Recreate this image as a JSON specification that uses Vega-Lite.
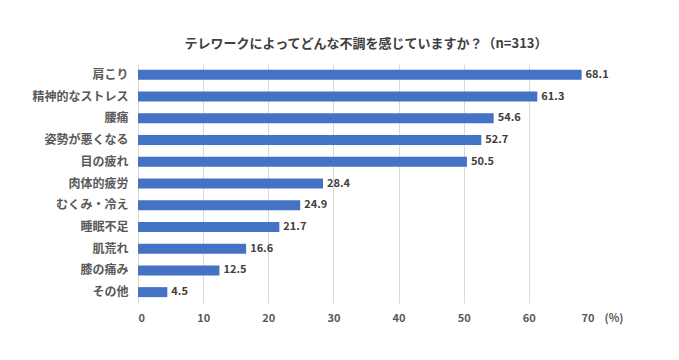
{
  "$schema": "https://vega.github.io/schema/vega-lite/v6.json",
  "autosize": "none",
  "width": 456,
  "height": 239,
  "padding": {"left": 138, "top": 64, "right": 85, "bottom": 57},
  "background": "white",
  "config": {
    "font": "Noto Sans CJK JP",
    "view": {"stroke": null}
  },
  "title": {
    "text": "テレワークによってどんな不調を感じていますか？（n=313）",
    "fontSize": 13,
    "fontWeight": "bold",
    "color": "#404040",
    "anchor": "middle",
    "offset": 13
  },
  "data": {
    "values": [
      {"item": "肩こり", "value": 68.1},
      {"item": "精神的なストレス", "value": 61.3},
      {"item": "腰痛", "value": 54.6},
      {"item": "姿勢が悪くなる", "value": 52.7},
      {"item": "目の疲れ", "value": 50.5},
      {"item": "肉体的疲労", "value": 28.4},
      {"item": "むくみ・冷え", "value": 24.9},
      {"item": "睡眠不足", "value": 21.7},
      {"item": "肌荒れ", "value": 16.6},
      {"item": "膝の痛み", "value": 12.5},
      {"item": "その他", "value": 4.5}
    ]
  },
  "encoding": {
    "y": {
      "field": "item",
      "type": "nominal",
      "sort": null,
      "scale": {"paddingInner": 0.54, "paddingOuter": 0.27},
      "axis": {
        "title": null,
        "domain": false,
        "ticks": false,
        "labelPadding": 10,
        "labelFontSize": 12,
        "labelFontWeight": "bold",
        "labelColor": "#595959"
      }
    },
    "x": {
      "field": "value",
      "type": "quantitative",
      "scale": {"domain": [0, 70], "nice": false},
      "axis": {
        "values": [0, 10, 20, 30, 40, 50, 60, 70],
        "domain": false,
        "ticks": false,
        "grid": true,
        "gridColor": "#d9d9d9",
        "gridOpacity": {"condition": {"test": "datum.value == 70", "value": 0}, "value": 1},
        "labelPadding": 9,
        "labelFontSize": 11,
        "labelFontWeight": "bold",
        "labelColor": "#595959",
        "title": "(%)",
        "titleFontSize": 11,
        "titleFontWeight": "bold",
        "titleColor": "#595959",
        "titleAngle": 0,
        "titleAlign": "left",
        "titleBaseline": "top",
        "titleX": 466,
        "titleY": 9
      }
    }
  },
  "layer": [
    {"mark": {"type": "bar", "color": "#4472C4"}},
    {
      "mark": {"type": "text", "align": "left", "baseline": "middle", "dx": 4, "fontSize": 11, "fontWeight": "bold", "color": "#404040"},
      "encoding": {"text": {"field": "value", "type": "quantitative", "format": ".1f"}}
    }
  ]
}
